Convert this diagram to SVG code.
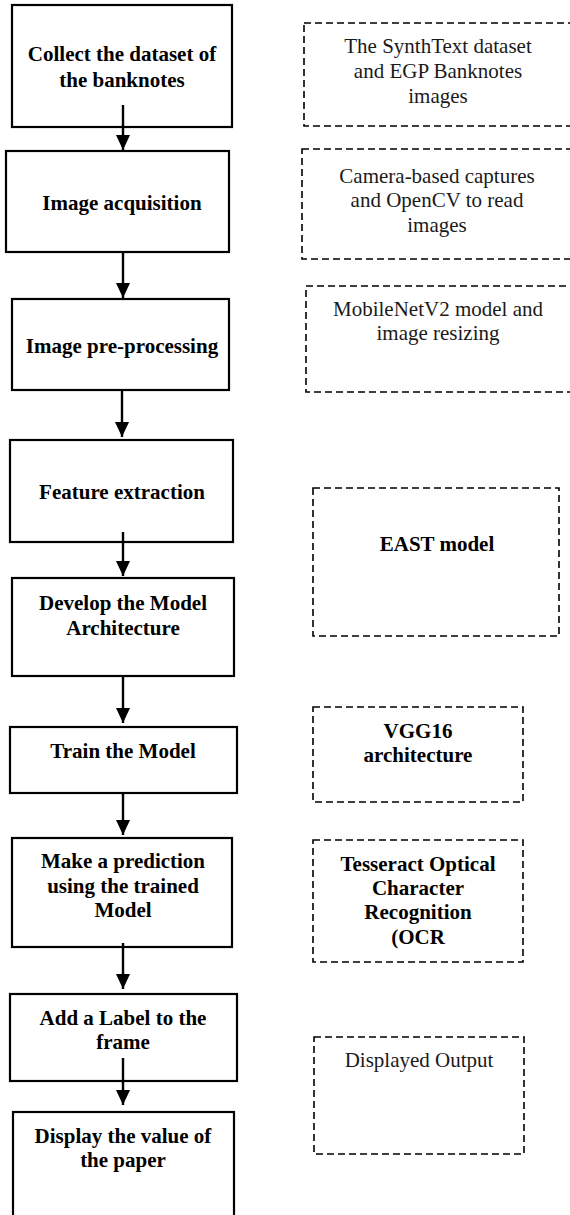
<svg xmlns="http://www.w3.org/2000/svg" width="570" height="1215" viewBox="0 0 570 1215">
<defs>
<style>
.box{fill:#fff;stroke:#000;stroke-width:2.2}
.dbox{fill:none;stroke:#000;stroke-width:1.6;stroke-dasharray:7 4}
.b{font-family:"Liberation Serif","Times New Roman",serif;font-weight:bold;font-size:21px;fill:#000;text-anchor:middle}
.r{font-family:"Liberation Serif","Times New Roman",serif;font-size:21px;fill:#1a1a1a;text-anchor:middle}
.c{stroke:#000;stroke-width:2.4;fill:none}
</style>
<marker id="ah" viewBox="0 0 15 14" refX="15" refY="7" markerWidth="15" markerHeight="14" markerUnits="userSpaceOnUse" orient="auto">
<path d="M0,0 L15,7 L0,14 Z" fill="#000"/>
</marker>
</defs>
<rect width="570" height="1215" fill="#fff"/>

<g id="n1"><rect class="box" x="12" y="5" width="220" height="122"/>
<text class="b" x="122" y="61">Collect the dataset of</text><text class="b" x="122" y="87">the banknotes</text></g>
<g id="n2"><rect class="box" x="6" y="151" width="223" height="101"/>
<text class="b" x="122" y="210">Image acquisition</text></g>
<g id="n3"><rect class="box" x="12" y="299" width="217" height="91"/>
<text class="b" x="122" y="353">Image pre-processing</text></g>
<g id="n4"><rect class="box" x="10" y="440" width="223" height="102"/>
<text class="b" x="122" y="499">Feature extraction</text></g>
<g id="n5"><rect class="box" x="12" y="578" width="222" height="98"/>
<text class="b" x="123" y="610">Develop the Model</text><text class="b" x="123" y="635">Architecture</text></g>
<g id="n6"><rect class="box" x="10" y="727" width="227" height="66"/>
<text class="b" x="123" y="758">Train the Model</text></g>
<g id="n7"><rect class="box" x="12" y="838" width="220" height="109"/>
<text class="b" x="123" y="868">Make a prediction</text><text class="b" x="123" y="893">using the trained</text><text class="b" x="123" y="917">Model</text></g>
<g id="n8"><rect class="box" x="10" y="994" width="227" height="87"/>
<text class="b" x="123" y="1025">Add a Label to the</text><text class="b" x="123" y="1049">frame</text></g>
<g id="n9"><rect class="box" x="13" y="1112" width="221" height="120"/>
<text class="b" x="123" y="1143">Display the value of</text><text class="b" x="123" y="1167">the paper</text></g>

<g id="d1"><rect class="dbox" x="304" y="23" width="270" height="103"/>
<text class="r" x="438" y="53">The SynthText dataset</text><text class="r" x="438" y="78">and EGP Banknotes</text><text class="r" x="438" y="103">images</text></g>
<g id="d2"><rect class="dbox" x="302" y="149" width="272" height="110"/>
<text class="r" x="437" y="183">Camera-based captures</text><text class="r" x="437" y="207">and OpenCV to read</text><text class="r" x="437" y="232">images</text></g>
<g id="d3"><rect class="dbox" x="306" y="286" width="268" height="106"/>
<text class="r" x="438" y="316">MobileNetV2 model and</text><text class="r" x="438" y="340">image resizing</text></g>
<g id="d4"><rect class="dbox" x="313" y="488" width="246" height="148"/>
<text class="b" x="437" y="551">EAST model</text></g>
<g id="d5"><rect class="dbox" x="313" y="707" width="210" height="95"/>
<text class="b" x="418" y="738">VGG16</text><text class="b" x="418" y="762">architecture</text></g>
<g id="d6"><rect class="dbox" x="313" y="840" width="210" height="122"/>
<text class="b" x="418" y="871">Tesseract Optical</text><text class="b" x="418" y="895">Character</text><text class="b" x="418" y="919">Recognition</text><text class="b" x="418" y="944">(OCR</text></g>
<g id="d7"><rect class="dbox" x="314" y="1037" width="210" height="117"/>
<text class="r" x="419" y="1067">Displayed Output</text></g>

<g id="connectors">
<line class="c" x1="123" y1="105" x2="123" y2="150" marker-end="url(#ah)"/>
<line class="c" x1="123" y1="252" x2="123" y2="298" marker-end="url(#ah)"/>
<line class="c" x1="122" y1="390" x2="122" y2="437" marker-end="url(#ah)"/>
<line class="c" x1="123" y1="532" x2="123" y2="576" marker-end="url(#ah)"/>
<line class="c" x1="123" y1="676" x2="123" y2="723" marker-end="url(#ah)"/>
<line class="c" x1="123" y1="793" x2="123" y2="835" marker-end="url(#ah)"/>
<line class="c" x1="123" y1="943" x2="123" y2="989" marker-end="url(#ah)"/>
<line class="c" x1="123" y1="1058" x2="123" y2="1105" marker-end="url(#ah)"/>
</g>
</svg>
